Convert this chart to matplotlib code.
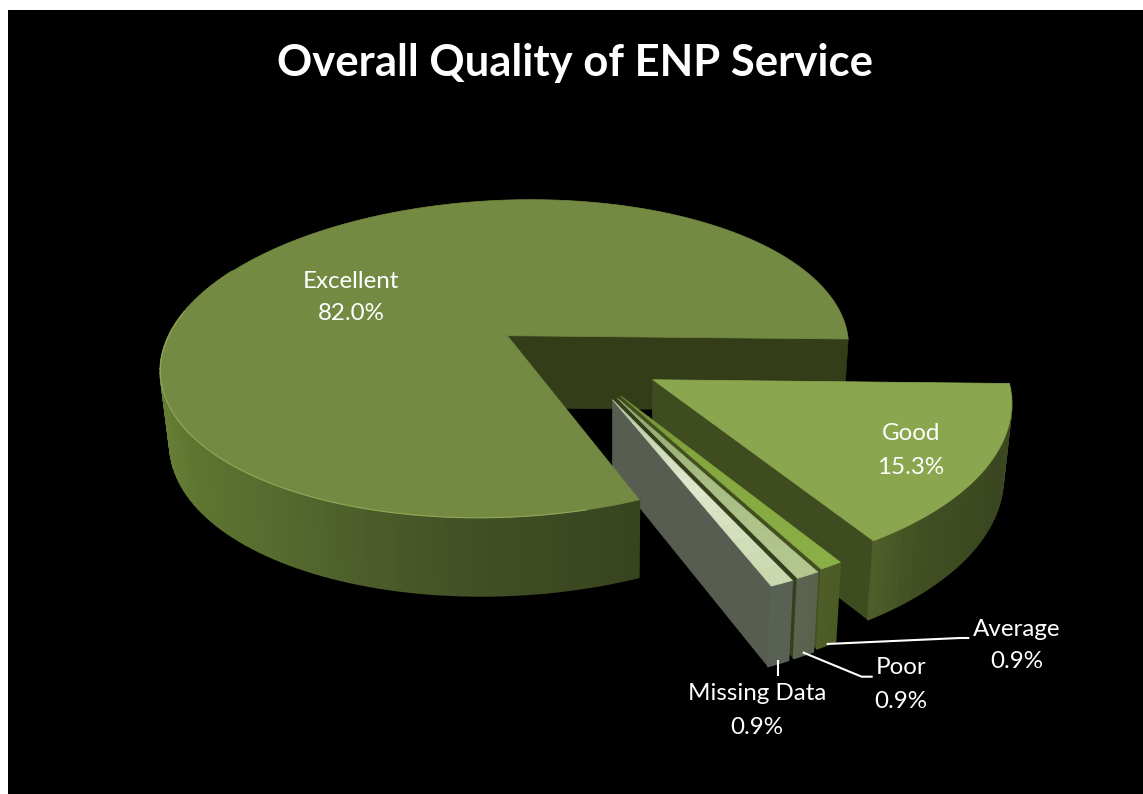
import numpy as np
import matplotlib
matplotlib.use("Agg")
import matplotlib.pyplot as plt
from matplotlib.colors import to_rgb
from matplotlib.patches import Polygon, Rectangle

TITLE = "Overall Quality of ENP Service"
categories = ["Good", "Average", "Poor", "Missing Data", "Excellent"]
shares = [15.3, 0.9, 0.9, 0.9, 82.0]
share_labels = ["15.3%", "0.9%", "0.9%", "0.9%", "82.0%"]

# exploded slice offset in the pie plane (pie radius = 1)
offsets = {"Excellent": (0.0, 0.0), "Good": (0.4376, -0.262), "Average": (0.352, -0.359),
           "Poor": (0.343, -0.372), "Missing Data": (0.330, -0.381)}

# pie plane -> picture projection
CX, CY, A, S, B, D, K, M = 507.3, 335.7, 338.9, 33.0, 155.7, 3.3, 0.1446, -0.006
VX, SHRINK = 610.0, 0.0212


def top(X, Y):
    X = np.asarray(X, float)
    Y = np.asarray(Y, float)
    w = 1 + K * Y + M * X
    return CX + (A * X + S * Y) / w, CY + (-B * Y + D * X) / w


def bottom(X, Y):
    x, y = top(X, Y)
    return x + (VX - x) * SHRINK, y + 72 + 0.033 * (y - CY)


def mix(stops, t):
    ts = [s[0] for s in stops]
    cols = np.array([to_rgb(s[1]) for s in stops])
    return tuple(np.interp(t, ts, cols[:, i]) for i in range(3))


fig = plt.figure(figsize=(11.43, 7.94), dpi=100, facecolor="white")
ax = fig.add_axes([0, 0, 1, 1])
ax.set_xlim(0, 1143)
ax.set_ylim(794, 0)
ax.axis("off")
ax.add_patch(Rectangle((8, 10), 1135, 784, fc="black", ec="none", zorder=0))


def poly(xs, ys, color, z=1, lw=0.5):
    ax.add_patch(Polygon(np.column_stack([xs, ys]), closed=True, fc=color, ec=color, lw=lw, zorder=z, joinstyle="round"))


def arc(name, a0, a1, n=160):
    ox, oy = offsets[name]
    th = np.radians(np.linspace(a0, a1, n))
    return ox + np.cos(th), oy + np.sin(th)


def radial_wall(name, ang, color, z):
    ox, oy = offsets[name]
    X = np.array([ox, ox + np.cos(np.radians(ang))])
    Y = np.array([oy, oy + np.sin(np.radians(ang))])
    tx, ty = top(X, Y)
    bx, by = bottom(X, Y)
    poly([tx[0], tx[1], bx[1], bx[0]], [ty[0], ty[1], by[1], by[0]], color, z)


def outer_wall(name, a0, a1, stops, z, n=60):
    X, Y = arc(name, a0, a1, n)
    tx, ty = top(X, Y)
    bx, by = bottom(X, Y)
    ts = np.linspace(a0, a1, n)
    for i in range(n - 1):
        poly([tx[i], tx[i + 1], bx[i + 1], bx[i]], [ty[i], ty[i + 1], by[i + 1], by[i]],
             mix(stops, 0.5 * (ts[i] + ts[i + 1])), z, lw=1.3)


def top_face(name, a0, a1, stops, z, bands=1):
    ox, oy = offsets[name]
    X, Y = arc(name, a0, a1)
    for j in range(bands):
        r0, r1 = j / bands, (j + 1) / bands
        xa, ya = top(ox + (X - ox) * r1, oy + (Y - oy) * r1)
        xb, yb = top(ox + (X - ox) * r0, oy + (Y - oy) * r0)
        poly(np.r_[xa, xb[::-1]], np.r_[ya, yb[::-1]], mix(stops, 0.5 * (r0 + r1)), z)


# slice angles: clockwise from the 3 o'clock edge
ang = {}
start = 0.0
for c, s in zip(categories, shares):
    ang[c] = (start - s * 3.6, start)
    start -= s * 3.6

# Excellent: back cut wall
radial_wall("Excellent", 0.0, "#333e19", 2)

# Good
a0, a1 = ang["Good"]
radial_wall("Good", a0, "#3f4c1f", 3)
outer_wall("Good", a0, a1, [(a0, "#4f5e29"), (a0 + 10, "#414f22"), (a1 - 20, "#3a4620"), (a1, "#3c4820")], 3, n=40)
top_face("Good", a0, a1, [(0, "#8aa64e"), (1, "#8aa64e")], 4)

# Average, Poor, Missing Data
small = {
    "Average": dict(wall="#434f1e", rim=[(0, "#4f5f28"), (1, "#4c5a26")], face=[(0, "#6c8a30"), (0.4, "#84a63f"), (1, "#8bb048")]),
    "Poor": dict(wall="#343f1b", rim=[(0, "#5c6450"), (1, "#5a624c")], face=[(0, "#8ea46a"), (0.5, "#a8bd83"), (1, "#b3c78e")]),
    "Missing Data": dict(wall="#575e51", rim=[(0, "#596054"), (1, "#596054")], face=[(0, "#b9c6a0"), (0.5, "#e0e8cd"), (1, "#c9d6ad")]),
}
for i, name in enumerate(["Average", "Poor", "Missing Data"]):
    a0, a1 = ang[name]
    st = small[name]
    z = 5 + i
    radial_wall(name, a0, st["wall"], z)
    rim = [(a0, st["rim"][0][1]), (a1, st["rim"][1][1])]
    outer_wall(name, a0, a1, rim, z, n=5)
    top_face(name, a0, a1, st["face"], z + 0.5, bands=14)

# Excellent: outer wall and top
a0, a1 = ang["Excellent"]
outer_wall("Excellent", -205, a1, [(-220, "#73893b"), (-180, "#6f8839"), (-150, "#627a33"), (-120, "#566a2e"),
                                   (-90, "#434f25"), (-64.8, "#38441e")], 9, n=90)
top_face("Excellent", a0, a1, [(0, "#748a42"), (1, "#748a42")], 10)
X, Y = arc("Excellent", -188, a1 - 8)
tx, ty = top(X, Y)
ax.plot(tx, ty, color="#8ea856", lw=0.8, zorder=11, solid_capstyle="round")

# leader lines
for lx, ly in [([777.7, 777.7], [659.5, 675.7]),
               ([802.7, 861.7, 872.7], [652.3, 676.7, 676.7]),
               ([826.7, 960.0, 969.3], [644.0, 638.0, 638.0])]:
    ax.plot(lx, ly, color="white", lw=1.5, zorder=12, solid_capstyle="butt")

# labels
FONT = "Lato"
label_pos = {"Excellent": (351, 282, 314), "Good": (911, 434, 467), "Average": (1017, 630, 662),
             "Poor": (901, 668, 701), "Missing Data": (757, 694, 727)}
for c, lab in zip(categories, share_labels):
    x, y1, y2 = label_pos[c]
    ax.text(x, y1, c, color="white", ha="center", va="center", fontsize=17.4, family=FONT, zorder=13)
    ax.text(x, y2, lab, color="white", ha="center", va="center", fontsize=17.4, family=FONT, zorder=13)
ax.text(575, 63, TITLE, color="white", ha="center", va="center", fontsize=31.4, fontweight="bold", family=FONT, zorder=13)

fig.savefig("out.png", dpi=100, facecolor="white")
